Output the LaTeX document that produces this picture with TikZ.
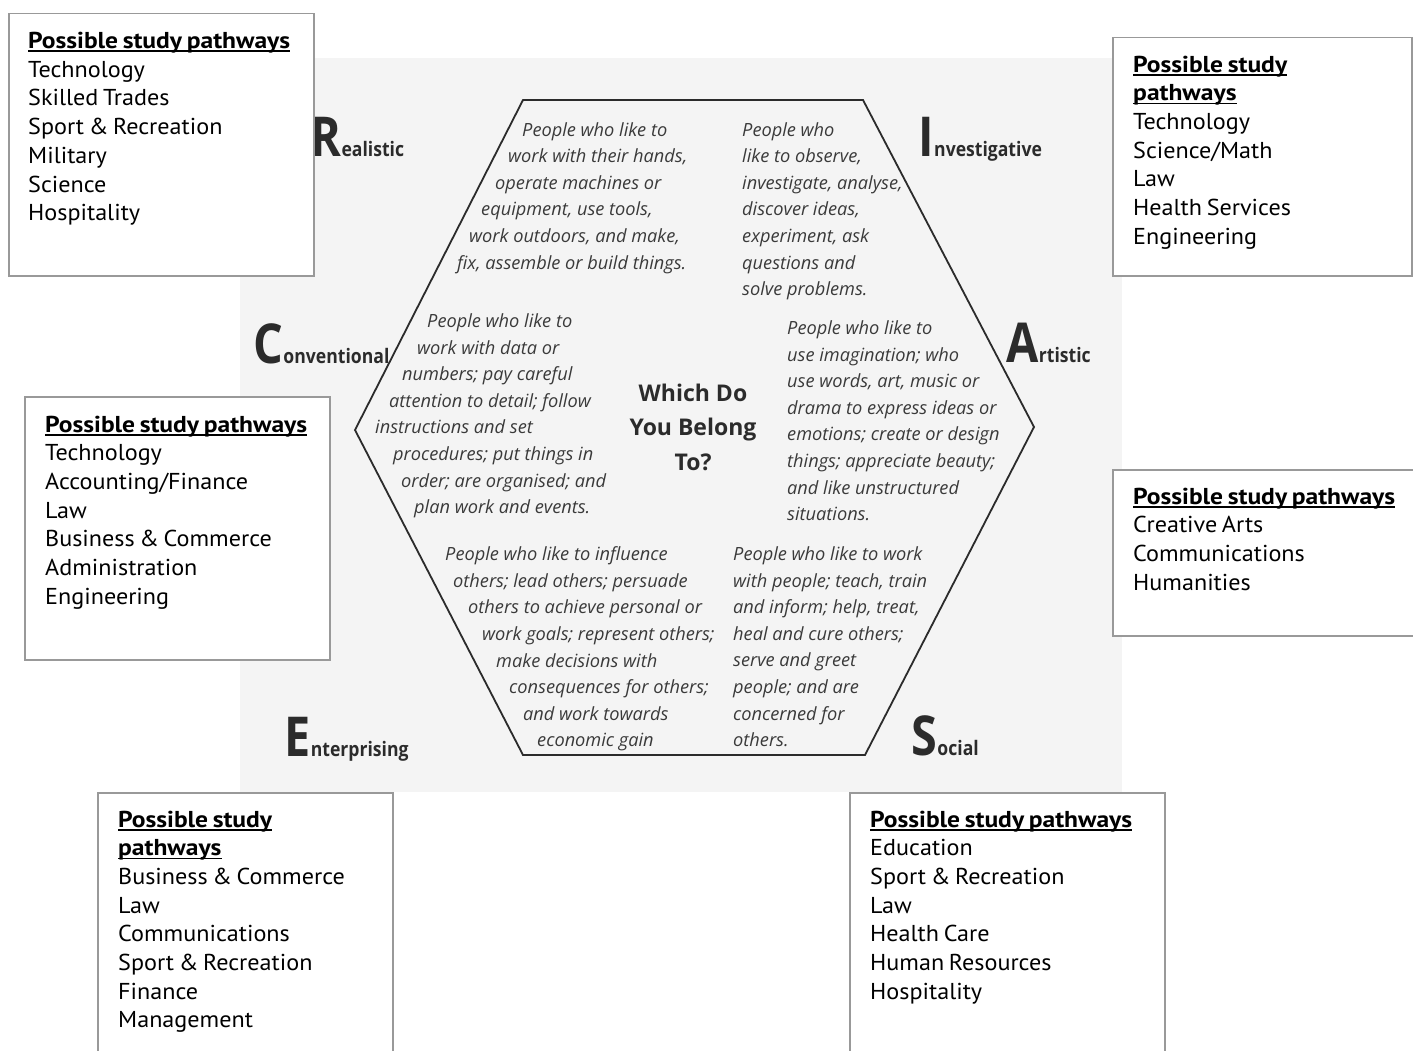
\documentclass[tikz,border=0pt]{standalone}
\usepackage{fontspec}
\setmainfont{PT Sans}[FakeStretch=1.05, WordSpace=0.72, BoldFeatures={FakeStretch=1.11}]
\newfontfamily\hexfont{Open Sans}
\newfontfamily\labbig{Open Sans}[FakeStretch=0.85]
\newfontfamily\labsmall{Open Sans}[FakeStretch=0.88]
\newfontfamily\labfont{Open Sans}
\definecolor{boxline}{HTML}{999999}
\definecolor{scan}{HTML}{F4F4F4}
\definecolor{ink}{HTML}{2B2B2B}
\definecolor{hexink}{HTML}{3A3A3A}
\newcommand\pul[1]{\setbox0\hbox{#1}\rlap{\rule[-3.5pt]{\wd0}{1.6pt}}\box0}
\newcommand\ptitle{\pul{\textbf{Possible study pathways}}}
\newcommand\biglab[2]{{\labbig\bfseries\fontsize{55}{55}\selectfont #1}\kern0.5pt{\labsmall\bfseries\fontsize{20}{20}\selectfont #2}}
\tikzset{
  pbox/.style={draw=boxline, line width=1.5pt, fill=white, anchor=north west, inner sep=0pt},
  btext/.style={anchor=north west, inner sep=0pt, align=left, font=\fontsize{23}{28.7}\selectfont, text=black},
  htext/.style={anchor=north west, inner sep=0pt, align=left, font=\hexfont\itshape\fontsize{18.2}{26.6}\selectfont, text=hexink},
  lab/.style={anchor=base west, inner sep=0pt, text=ink},
}
\begin{document}
\begin{tikzpicture}[x=1pt,y=-1pt]
\useasboundingbox (0,0) rectangle (1413,1051);
\clip (0,0) rectangle (1413,1051);
\fill[white] (0,0) rectangle (1413,1051);
% scanned page background
\fill[scan] (240,58) rectangle (1122,792);
% hexagon
\coordinate (h1) at (523,100);
\coordinate (h2) at (863,100);
\coordinate (h3) at (1034,427);
\coordinate (h4) at (865,755);
\coordinate (h5) at (523,755);
\coordinate (h6) at (355,430);
\draw[line width=1.8pt, color=ink, line join=miter] (h1) -- (h2) -- (h3) -- (h4) -- (h5) -- (h6) -- cycle;

% hexagon texts
\node[htext] (tR) at (457,122) {\hspace*{65pt}People who like to\\
\hspace*{51pt}work with their hands,\\
\hspace*{38pt}operate machines or\\
\hspace*{24pt}equipment, use tools,\\
\hspace*{12pt}work outdoors, and make,\\
fix, assemble or build things.};
\node[htext] (tI) at (742,122) {People who\\like to observe,\\investigate, analyse,\\discover ideas,\\experiment, ask\\questions and\\solve problems.};
\node[htext] (tC) at (375,313.5) {\hspace*{52pt}People who like to\\
\hspace*{42pt}work with data or\\
\hspace*{27pt}numbers; pay careful\\
\hspace*{14pt}attention to detail; follow\\
instructions and set\\
\hspace*{18pt}procedures; put things in\\
\hspace*{26pt}order; are organised; and\\
\hspace*{39pt}plan work and events.};
\node[htext] (tA) at (787,320.5) {People who like to\\use imagination; who\\use words, art, music or\\drama to express ideas or\\emotions; create or design\\things; appreciate beauty;\\and like unstructured\\situations.};
\node[htext] (tE) at (445,546.5) {People who like to influence\\
\hspace*{8pt}others; lead others; persuade\\
\hspace*{23pt}others to achieve personal or\\
\hspace*{37pt}work goals; represent others;\\
\hspace*{51pt}make decisions with\\
\hspace*{64pt}consequences for others;\\
\hspace*{78pt}and work towards\\
\hspace*{92pt}economic gain};
\node[htext] (tS) at (733,546.5) {People who like to work\\with people; teach, train\\and inform; help, treat,\\heal and cure others;\\serve and greet\\people; and are\\concerned for\\others.};
\node[anchor=center, inner sep=0pt, align=center, font=\labfont\bfseries\fontsize{23}{34.5}\selectfont, text=ink] (title) at (693,427) {Which Do\\You Belong\\To?};

% category labels
\node[lab] (lR) at (310,157) {\biglab{R}{ealistic}};
\node[lab] (lI) at (918,157) {\biglab{I}{nvestigative}};
\node[lab] (lC) at (253,363) {\biglab{C}{onventional}};
\node[lab] (lA) at (1006,362) {\biglab{A}{rtistic}};
\node[lab] (lE) at (284,756) {\biglab{E}{nterprising}};
\node[lab] (lS) at (911,755) {\biglab{S}{ocial}};

% pathway boxes
\node[pbox, minimum width=305pt, minimum height=262pt] (bR) at (8,13) {};
\node[pbox, minimum width=299pt, minimum height=238pt] (bI) at (1112,37) {};
\node[pbox, minimum width=305pt, minimum height=263pt] (bC) at (24,396) {};
\node[pbox, minimum width=310pt, minimum height=166pt] (bA) at (1112,469) {};
\node[pbox, minimum width=295pt, minimum height=280pt] (bE) at (97,792) {};
\node[pbox, minimum width=315pt, minimum height=280pt] (bS) at (849,792) {};

\node[btext] (xR) at (28,32) {\ptitle\\Technology\\Skilled Trades\\Sport \& Recreation\\Military\\Science\\Hospitality};
\node[btext] (xI) at (1133,55.5) {\pul{\textbf{Possible study}}\\\pul{\textbf{pathways}}\\Technology\\Science/Math\\Law\\Health Services\\Engineering};
\node[btext] (xC) at (45,415.5) {\ptitle\\Technology\\Accounting/Finance\\Law\\Business \& Commerce\\Administration\\Engineering};
\node[btext] (xA) at (1133,487.5) {\ptitle\\Creative Arts\\Communications\\Humanities};
\node[btext] (xE) at (118,810.5) {\pul{\textbf{Possible study}}\\\pul{\textbf{pathways}}\\Business \& Commerce\\Law\\Communications\\Sport \& Recreation\\Finance\\Management};
\node[btext] (xS) at (870,810.5) {\ptitle\\Education\\Sport \& Recreation\\Law\\Health Care\\Human Resources\\Hospitality};
\end{tikzpicture}
\end{document}
